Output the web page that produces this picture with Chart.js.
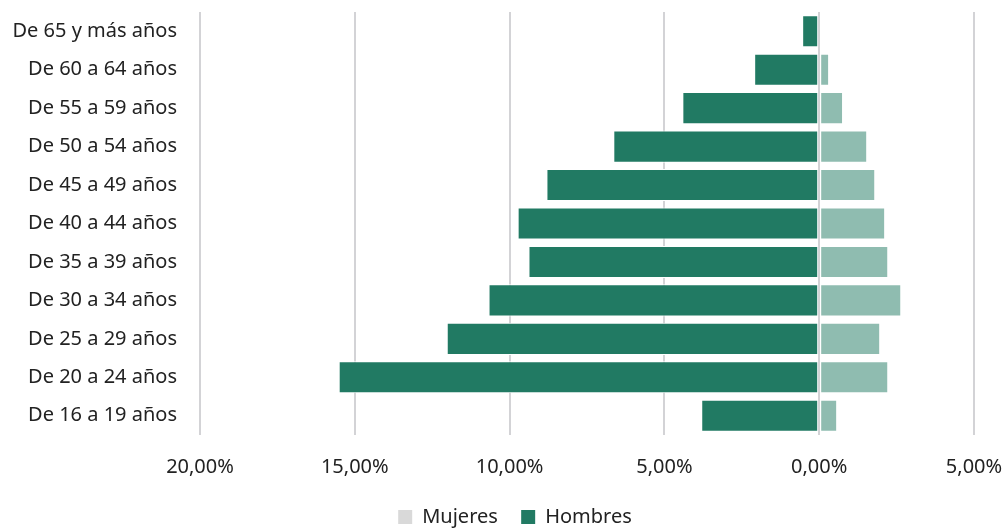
<!DOCTYPE html>
<html><head><meta charset="utf-8">
<script src="https://cdn.jsdelivr.net/npm/chart.js@4.4.1/dist/chart.umd.min.js"></script>
<style>html,body{margin:0;padding:0;background:#fff}#w{width:1005px;height:529px}</style>
</head><body><div id="w"><canvas id="c"></canvas></div>
<script>
const categories = ["De 65 y más años","De 60 a 64 años","De 55 a 59 años","De 50 a 54 años","De 45 a 49 años","De 40 a 44 años","De 35 a 39 años","De 30 a 34 años","De 25 a 29 años","De 20 a 24 años","De 16 a 19 años"];
const hombres = [-0.55,-2.1,-4.42,-6.65,-8.81,-9.74,-9.39,-10.68,-12.03,-15.52,-3.81];
const mujeres = [0.04,0.32,0.77,1.55,1.81,2.13,2.23,2.65,1.97,2.23,0.58];
const xTicks = [-20,-15,-10,-5,0,5];
const fmt = v => Math.abs(v).toFixed(2).replace('.',',') + '%';
Chart.defaults.font.family = "'Noto Sans', sans-serif";
Chart.defaults.color = '#222';
const shiftLegend = {id:'shiftLegend', afterLayout(chart){ const l = chart.legend; if(l){ l.left += 28; l.right += 28; } }};
new Chart(document.getElementById('c'), {
  type:'bar',
  plugins:[shiftLegend],
  data:{labels:categories, datasets:[
    {label:'Mujeres', data:mujeres, backgroundColor:'#8fbcb0', borderColor:'#ffffff', borderWidth:1, borderSkipped:false, legendColor:'#d9d9d9', barPercentage:0.86, categoryPercentage:0.97},
    {label:'Hombres', data:hombres, backgroundColor:'#217a63', borderColor:'#ffffff', borderWidth:1, borderSkipped:false, legendColor:'#217a63', barPercentage:0.86, categoryPercentage:0.97}
  ]},
  options:{
    indexAxis:'y', responsive:true, maintainAspectRatio:false, animation:false,
    layout:{padding:{top:12,right:31,left:0,bottom:-8}},
    scales:{
      x:{stacked:true, min:-20, max:5, afterBuildTicks:a=>{a.ticks=xTicks.map(v=>({value:v}));},
        afterFit:s=>{s.paddingLeft=0; s.paddingRight=0; s.height=62;},
        ticks:{callback:v=>fmt(v), font:{size:20}, padding:20, maxRotation:0},
        grid:{color:'#d3d3d6', lineWidth:2, drawTicks:false}, border:{display:false}},
      y:{stacked:true, grid:{display:false, drawTicks:false}, border:{display:false},
        afterFit:s=>{s.width=200; s.paddingTop=0; s.paddingBottom=0;},
        ticks:{font:{size:20}, padding:23}}
    },
    plugins:{
      legend:{position:'bottom', labels:{font:{size:20}, boxWidth:14, boxHeight:14, padding:10,
        generateLabels:ch=>ch.data.datasets.map((d,i)=>({text:d.label+(i===0?'\u2002\u2009':''), fillStyle:d.legendColor, strokeStyle:d.legendColor, lineWidth:0, datasetIndex:i, hidden:false, fontColor:'#222'}))}},
      tooltip:{enabled:false}
    }
  }
});
</script></body></html>
